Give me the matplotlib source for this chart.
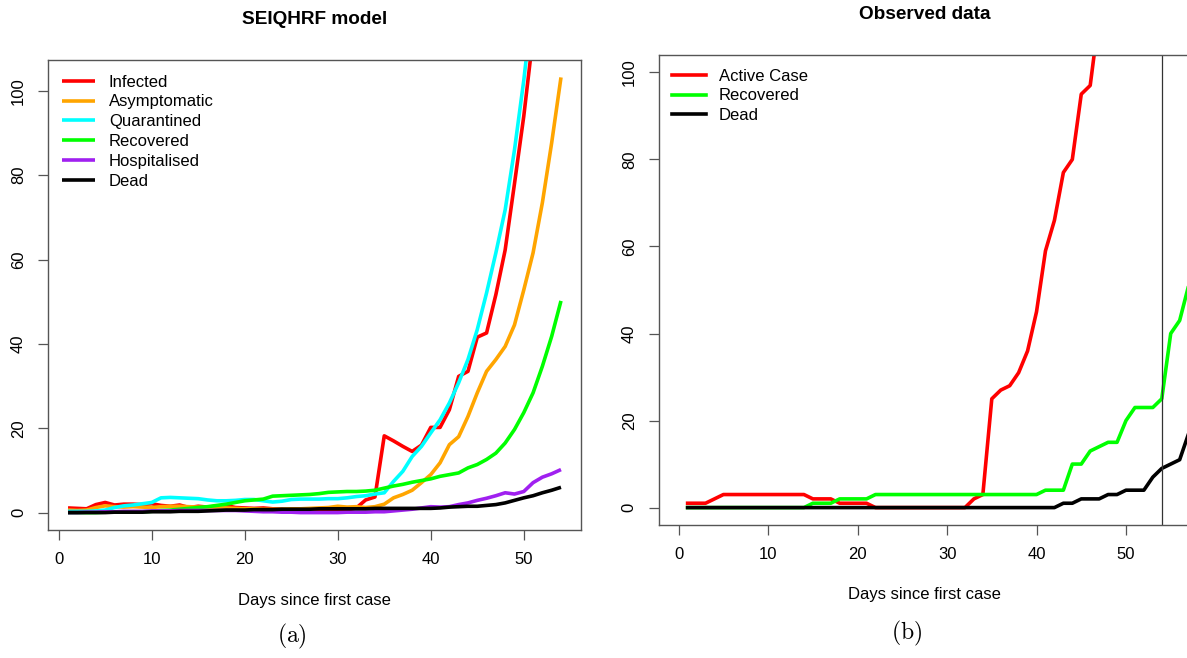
import numpy as np
import matplotlib
matplotlib.use("Agg")
import matplotlib.pyplot as plt

plt.rcParams['font.family'] = ['Liberation Sans', 'DejaVu Sans']
plt.rcParams['mathtext.fontset'] = 'cm'

# ---------------- data: SEIQHRF model (days 1..54) ----------------
model_days = list(range(1, 55))
infected = [1.1, 1.0, 0.9, 1.9, 2.4, 1.8, 2.0, 2.0, 1.9, 2.1,
            1.7, 1.5, 1.8, 1.2, 1.5, 1.3, 1.5, 1.7, 1.2, 1.1,
            1.0, 1.1, 0.9, 0.8, 0.6, 0.8, 0.9, 0.8, 0.6, 0.5,
            0.6, 1.1, 3.0, 3.7, 18.2, 17.0, 15.7, 14.5, 16.0, 20.2,
            20.2, 24.4, 32.3, 33.5, 41.6, 42.6, 51.7, 62.3, 78.0, 94.0,
            113, 135, 160, 190]
asymptomatic = [0.6, 0.5, 0.6, 1.2, 1.6, 1.4, 1.3, 1.4, 1.3, 1.2,
                1.4, 1.5, 1.5, 1.4, 1.3, 1.2, 1.2, 1.1, 1.0, 0.9,
                0.9, 0.8, 0.8, 0.8, 0.9, 0.9, 1.0, 1.1, 1.2, 1.5,
                1.3, 1.4, 1.2, 1.4, 2.0, 3.5, 4.3, 5.3, 7.1, 9.0,
                11.8, 16.1, 18.0, 22.8, 28.4, 33.5, 36.3, 39.4, 44.5, 52.8,
                61.6, 73.5, 87.7, 103.2]
quarantined = [0.3, 0.3, 0.3, 0.4, 0.6, 1.2, 1.6, 1.8, 2.1, 2.4,
               3.5, 3.6, 3.5, 3.4, 3.3, 3.0, 2.8, 2.8, 2.9, 3.1,
               3.1, 2.8, 2.5, 2.7, 3.1, 3.2, 3.2, 3.2, 3.3, 3.3,
               3.5, 3.8, 4.0, 4.4, 4.7, 7.4, 9.8, 13.3, 15.7, 18.9,
               22.0, 26.0, 30.8, 36.3, 43.4, 52.1, 61.6, 71.8, 86.0, 102.5,
               122, 145, 172, 204]
recovered = [0.0, 0.0, 0.0, 0.0, 0.1, 0.1, 0.1, 0.2, 0.2, 0.3,
             0.5, 0.6, 0.8, 1.0, 1.2, 1.4, 1.7, 2.0, 2.4, 2.8,
             3.0, 3.2, 3.9, 4.0, 4.1, 4.2, 4.3, 4.5, 4.8, 4.9,
             5.0, 5.0, 5.1, 5.3, 5.8, 6.3, 6.7, 7.2, 7.6, 8.0,
             8.6, 9.0, 9.4, 10.6, 11.4, 12.6, 14.1, 16.5, 19.7, 23.7,
             28.4, 34.7, 41.8, 50.2]
hospitalised = [0.0, 0.0, 0.1, 0.1, 0.2, 0.2, 0.3, 0.3, 0.3, 0.4,
                0.4, 0.4, 0.5, 0.5, 0.5, 0.5, 0.5, 0.5, 0.5, 0.4,
                0.3, 0.2, 0.2, 0.1, 0.1, 0.0, 0.0, 0.0, 0.0, 0.0,
                0.1, 0.1, 0.1, 0.2, 0.2, 0.4, 0.6, 0.8, 1.1, 1.4,
                1.3, 1.4, 1.9, 2.3, 2.9, 3.4, 4.0, 4.7, 4.4, 5.0,
                7.1, 8.4, 9.2, 10.2]
dead = [0.0, 0.0, 0.0, 0.0, 0.0, 0.1, 0.1, 0.1, 0.1, 0.2,
        0.2, 0.2, 0.3, 0.3, 0.3, 0.4, 0.5, 0.6, 0.6, 0.6,
        0.7, 0.7, 0.7, 0.8, 0.8, 0.8, 0.8, 0.9, 0.9, 0.9,
        0.9, 0.9, 0.9, 1.0, 1.0, 1.0, 1.0, 1.0, 1.0, 1.0,
        1.1, 1.3, 1.4, 1.5, 1.5, 1.7, 1.9, 2.3, 2.9, 3.5,
        4.0, 4.7, 5.3, 6.0]

# ---------------- data: observed ----------------
obs_days = list(range(1, 58))
active = [1, 1, 1, 2, 3, 3, 3, 3, 3, 3, 3, 3, 3, 3, 2, 2, 2, 1, 1, 1,
          1, 0, 0, 0, 0, 0, 0, 0, 0, 0, 0, 0, 2, 3, 25, 27, 28, 31, 36, 45,
          59, 66, 77, 80, 95, 97, 113]
obs_recovered = [0, 0, 0, 0, 0, 0, 0, 0, 0, 0, 0, 0, 0, 0, 1, 1, 1, 2, 2, 2,
                 2, 3, 3, 3, 3, 3, 3, 3, 3, 3, 3, 3, 3, 3, 3, 3, 3, 3, 3, 3,
                 4, 4, 4, 10, 10, 13, 14, 15, 15, 20, 23, 23, 23, 25, 40, 43, 51]
obs_dead = [0, 0, 0, 0, 0, 0, 0, 0, 0, 0, 0, 0, 0, 0, 0, 0, 0, 0, 0, 0,
            0, 0, 0, 0, 0, 0, 0, 0, 0, 0, 0, 0, 0, 0, 0, 0, 0, 0, 0, 0,
            0, 0, 1, 1, 2, 2, 2, 3, 3, 4, 4, 4, 7, 9, 10, 11, 17]

model_series = [("Infected", infected, "#FF0000"),
                ("Asymptomatic", asymptomatic, "#FFA500"),
                ("Quarantined", quarantined, "#00FFFF"),
                ("Recovered", recovered, "#00FF00"),
                ("Hospitalised", hospitalised, "#A020F0"),
                ("Dead", dead, "#000000")]
obs_series = [("Active Case", active, "#FF0000"),
              ("Recovered", obs_recovered, "#00FF00"),
              ("Dead", obs_dead, "#000000")]

W, H = 1187, 658
fig = plt.figure(figsize=(W / 100, H / 100), dpi=100)


def px_axes(left, top, right, bottom):
    return fig.add_axes([left / W, 1 - bottom / H, (right - left) / W, (bottom - top) / H])


def style_axes(ax):
    for sp in ax.spines.values():
        sp.set_color('#555555')
        sp.set_linewidth(1.0)
    ax.tick_params(direction='out', length=7, width=0.9, color='#555555',
                   labelsize=12, pad=9)
    ax.tick_params(axis='y', labelrotation=90)
    for lab in ax.get_yticklabels():
        lab.set_va('center')


LW = 2.6
LEG = dict(loc='upper left', frameon=False, fontsize=12, handlelength=2.0,
           handletextpad=0.8, labelspacing=0.29, borderpad=0, borderaxespad=0)

# left panel
ax1 = px_axes(48.3, 60, 580.7, 530)
for name, vals, col in model_series:
    ax1.plot(model_days, vals, color=col, lw=LW, label=name, solid_capstyle='butt')
ax1.set_xlim(1 - 0.04 * 53, 54 + 0.04 * 53)
ax1.set_ylim(-0.04 * 103.2, 103.2 * 1.04)
ax1.set_xticks([0, 10, 20, 30, 40, 50])
ax1.set_yticks([0, 20, 40, 60, 80, 100])
style_axes(ax1)
ax1.legend(bbox_to_anchor=(0.026, 0.969), **LEG)

# right panel (extends past the figure edge)
ax2 = px_axes(659, 55, 1190.4, 525)
for name, vals, col in obs_series:
    ax2.plot(obs_days[:len(vals)], vals, color=col, lw=LW, label=name)
ax2.axvline(54, color='#333333', lw=0.9)
ax2.set_xlim(-2.2, 57.2)
ax2.set_ylim(-4, 104)
ax2.set_xticks([0, 10, 20, 30, 40, 50])
ax2.set_yticks([0, 20, 40, 60, 80, 100])
style_axes(ax2)
ax2.legend(bbox_to_anchor=(0.025, 0.971), **LEG)

# titles, axis labels, panel tags
fig.text(314.5 / W, 1 - 20 / H, "SEIQHRF model", ha='center', va='center',
         fontsize=13.7, fontweight='bold')
fig.text(924.5 / W, 1 - 14.5 / H, "Observed data", ha='center', va='center',
         fontsize=13.7, fontweight='bold')
fig.text(314.5 / W, 1 - 600 / H, "Days since first case", ha='center', va='center', fontsize=12)
fig.text(924.5 / W, 1 - 595 / H, "Days since first case", ha='center', va='center', fontsize=12)
fig.text(292 / W, 1 - 636 / H, r"$\mathrm{(a)}$", ha='center', va='center', fontsize=17)
fig.text(907 / W, 1 - 633 / H, r"$\mathrm{(b)}$", ha='center', va='center', fontsize=17)

fig.savefig("out.png", dpi=100)
